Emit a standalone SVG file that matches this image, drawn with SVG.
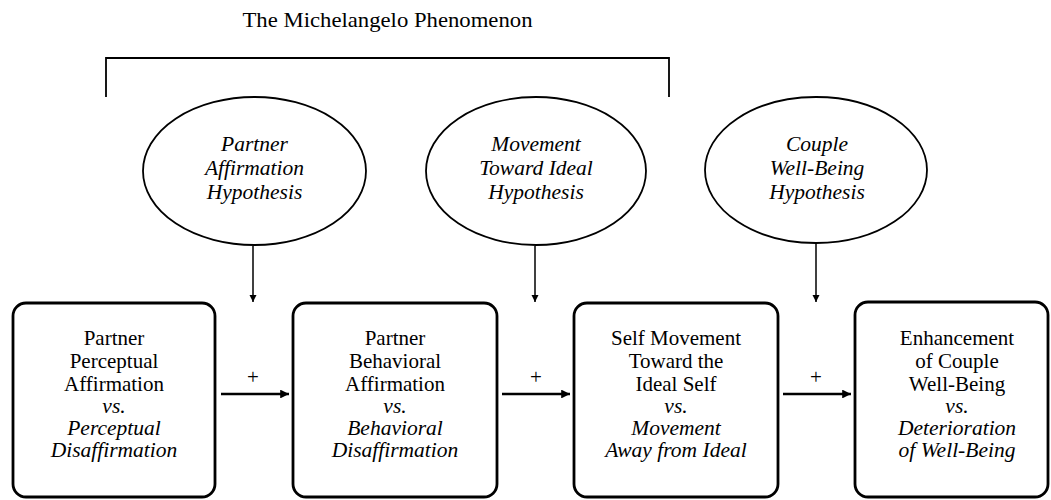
<svg xmlns="http://www.w3.org/2000/svg" width="1051" height="500" viewBox="0 0 1051 500">
<style>
.box{fill:#fff;stroke:#000;stroke-width:2.8}
.ell{fill:#fff;stroke:#000;stroke-width:1.8}
.t{font-family:"Liberation Serif","Times New Roman",serif;font-size:21px;fill:#000;text-anchor:middle}
.i{font-style:italic;font-size:21.5px}
.h{stroke:#000;stroke-width:2.6;fill:none}
.v{stroke:#000;stroke-width:1.5;fill:none}
.plus{font-family:"Liberation Serif","Times New Roman",serif;font-size:21px;fill:#000;text-anchor:middle}
</style>
<defs>
<marker id="ah" viewBox="0 0 10 10" refX="10" refY="5" markerWidth="3.4" markerHeight="3.4" markerUnits="strokeWidth" orient="auto"><path d="M0,0 L10,5 L0,10 Z" fill="#000"/></marker>
<marker id="av" viewBox="0 0 10 10" refX="10" refY="5" markerWidth="5" markerHeight="5" markerUnits="strokeWidth" orient="auto"><path d="M0,0 L10,5 L0,10 Z" fill="#000"/></marker>
</defs>
<rect width="1051" height="500" fill="#fff"/>
<g id="title">
<text class="t" x="387.5" y="27" textLength="290" lengthAdjust="spacingAndGlyphs" style="font-size:21.5px">The Michelangelo Phenomenon</text>
<path d="M106,97 V58 H669 V97" fill="none" stroke="#000" stroke-width="1.8"/>
</g>
<g id="hyp1">
<ellipse class="ell" cx="254.5" cy="171" rx="111.5" ry="74"/>
<text class="t i" x="254.5" y="151">Partner</text>
<text class="t i" x="254.5" y="175">Affirmation</text>
<text class="t i" x="254.5" y="199">Hypothesis</text>
</g>
<g id="hyp2">
<ellipse class="ell" cx="536" cy="171" rx="110" ry="74"/>
<text class="t i" x="536" y="151">Movement</text>
<text class="t i" x="536" y="175">Toward Ideal</text>
<text class="t i" x="536" y="199">Hypothesis</text>
</g>
<g id="hyp3">
<ellipse class="ell" cx="816" cy="170" rx="111" ry="73"/>
<text class="t i" x="817" y="151">Couple</text>
<text class="t i" x="817" y="175">Well-Being</text>
<text class="t i" x="817" y="199">Hypothesis</text>
</g>
<g id="box1">
<rect class="box" x="13" y="303" width="202" height="194" rx="13"/>
<text class="t" x="114" y="345">Partner</text>
<text class="t" x="114" y="368">Perceptual</text>
<text class="t" x="114" y="391">Affirmation</text>
<text class="t i" x="114" y="413">vs.</text>
<text class="t i" x="114" y="435">Perceptual</text>
<text class="t i" x="114" y="457">Disaffirmation</text>
</g>
<g id="box2">
<rect class="box" x="293" y="303" width="204" height="194" rx="13"/>
<text class="t" x="395" y="345">Partner</text>
<text class="t" x="395" y="368">Behavioral</text>
<text class="t" x="395" y="391">Affirmation</text>
<text class="t i" x="395" y="413">vs.</text>
<text class="t i" x="395" y="435">Behavioral</text>
<text class="t i" x="395" y="457">Disaffirmation</text>
</g>
<g id="box3">
<rect class="box" x="574" y="303" width="204" height="194" rx="13"/>
<text class="t" x="676" y="345">Self Movement</text>
<text class="t" x="676" y="368">Toward the</text>
<text class="t" x="676" y="391">Ideal Self</text>
<text class="t i" x="676" y="413">vs.</text>
<text class="t i" x="676" y="435">Movement</text>
<text class="t i" x="676" y="457">Away from Ideal</text>
</g>
<g id="box4">
<rect class="box" x="855" y="302" width="193" height="195" rx="13"/>
<text class="t" x="957" y="345">Enhancement</text>
<text class="t" x="957" y="368">of Couple</text>
<text class="t" x="957" y="391">Well-Being</text>
<text class="t i" x="957" y="413">vs.</text>
<text class="t i" x="957" y="435">Deterioration</text>
<text class="t i" x="957" y="457">of Well-Being</text>
</g>
<g id="connectors">
<line class="v" x1="253" y1="246" x2="253" y2="302" marker-end="url(#av)"/>
<line class="v" x1="535" y1="246" x2="535" y2="302" marker-end="url(#av)"/>
<line class="v" x1="816" y1="244" x2="816" y2="302" marker-end="url(#av)"/>
<line class="h" x1="221" y1="394" x2="289" y2="394" marker-end="url(#ah)"/>
<line class="h" x1="502" y1="394" x2="570" y2="394" marker-end="url(#ah)"/>
<line class="h" x1="783" y1="394" x2="851" y2="394" marker-end="url(#ah)"/>
<text class="plus" x="253" y="384">+</text>
<text class="plus" x="536" y="384">+</text>
<text class="plus" x="816" y="384">+</text>
</g>
</svg>
